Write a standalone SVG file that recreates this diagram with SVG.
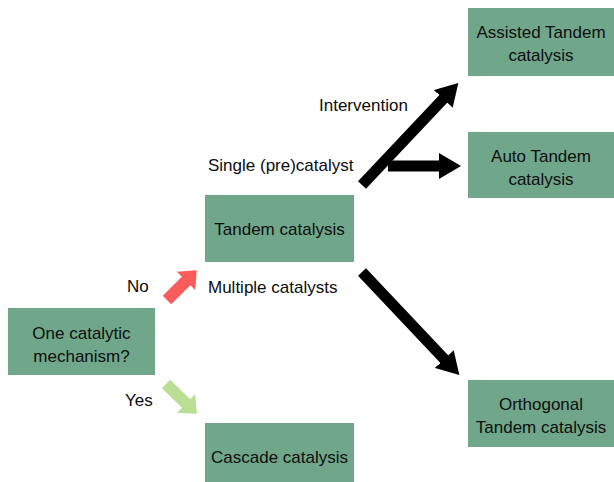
<svg xmlns="http://www.w3.org/2000/svg" width="614" height="482" viewBox="0 0 614 482">
<style>
.box{fill:#70A78B;}
.t{font-family:"Liberation Sans",Arial,sans-serif;font-size:17px;fill:#0d0d0d;}
.c{text-anchor:middle;}
.blk{stroke:#000;stroke-width:11;fill:none;}
</style>
<defs>
<marker id="ah" markerUnits="userSpaceOnUse" viewBox="0 0 22 26" refX="4" refY="13" markerWidth="22" markerHeight="26" orient="auto">
<path d="M0,0 L22,13 L0,26 Z" fill="#000"/>
</marker>
</defs>
<rect width="614" height="482" fill="#fff"/>
<g id="connectors">
<path class="blk" d="M362,185 L446,96" marker-end="url(#ah)"/>
<path class="blk" d="M388,166 L443,166" marker-end="url(#ah)"/>
<path class="blk" d="M362,272 L447,362" marker-end="url(#ah)"/>
<polygon transform="translate(167,300) rotate(-45)" points="0,-6 27,-6 27,-13 42,0 27,13 27,6 0,6" fill="#FA5C5C"/>
<polygon transform="translate(166,384) rotate(44)" points="0,-6 28,-6 28,-13 43,0 28,13 28,6 0,6" fill="#BADE94"/>
<text class="t" x="319" y="111">Intervention</text>
<text class="t" x="208" y="171">Single (pre)catalyst</text>
<text class="t" x="127" y="292">No</text>
<text class="t" x="208" y="293">Multiple catalysts</text>
<text class="t" x="125" y="406">Yes</text>
</g>
<g id="n1"><rect class="box" x="8" y="308" width="147" height="67"/><text class="t c" x="81.5" y="339">One catalytic</text><text class="t c" x="81.5" y="362">mechanism?</text></g>
<g id="n2"><rect class="box" x="205" y="195" width="149" height="67"/><text class="t c" x="279.5" y="235">Tandem catalysis</text></g>
<g id="n3"><rect class="box" x="205" y="423" width="149" height="59"/><text class="t c" x="279.5" y="463">Cascade catalysis</text></g>
<g id="n4"><rect class="box" x="468" y="8" width="146" height="68"/><text class="t c" x="541" y="38">Assisted Tandem</text><text class="t c" x="541" y="61">catalysis</text></g>
<g id="n5"><rect class="box" x="468" y="132" width="146" height="66"/><text class="t c" x="541" y="162">Auto Tandem</text><text class="t c" x="541" y="185">catalysis</text></g>
<g id="n6"><rect class="box" x="468" y="380" width="146" height="67"/><text class="t c" x="541" y="410">Orthogonal</text><text class="t c" x="541" y="433">Tandem catalysis</text></g>
</svg>
